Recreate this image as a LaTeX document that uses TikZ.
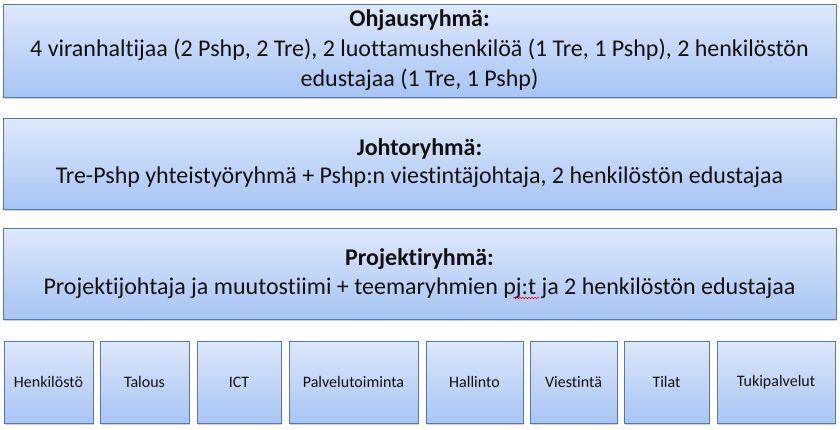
\documentclass[tikz,border=0pt]{standalone}
\usepackage{fontspec}
\setmainfont{Carlito}[Ligatures=NoCommon]
\usetikzlibrary{shadows,decorations.pathmorphing}
\definecolor{boxtop}{HTML}{DDE8FB}
\definecolor{boxbot}{HTML}{A7C4F4}
\definecolor{boxline}{HTML}{5877A6}
\definecolor{txt}{HTML}{111111}
\tikzset{
  panel/.style={draw=boxline, line width=0.8pt, top color=boxtop, bottom color=boxbot,
    drop shadow={opacity=0.35, shadow xshift=1.2pt, shadow yshift=-1.8pt},
    inner sep=0pt, align=center, text=txt},
  bigpanel/.style={panel, font=\fontsize{24}{30}\selectfont},
  smallpanel/.style={panel, font=\fontsize{16}{18}\selectfont, minimum height=82pt},
}
\begin{document}
\begin{tikzpicture}[x=1pt,y=-1pt]
\useasboundingbox (0,0) rectangle (840,429);
\fill[white] (0,0) rectangle (840,429);
\node[bigpanel, minimum width=833pt, minimum height=93pt] (ohj) at (419.5,50.5)
  {\textbf{Ohjausryhmä:}\\4 viranhaltijaa (2 Pshp, 2 Tre), 2 luottamushenkilöä (1 Tre, 1 Pshp), 2 henkilöstön\\edustajaa (1 Tre, 1 Pshp)};
\node[bigpanel, font=\fontsize{24}{28}\selectfont, minimum width=833pt, minimum height=91pt] (joh) at (419.5,163.5)
  {\textbf{Johtoryhmä:}\\Tre-Pshp yhteistyöryhmä + Pshp:n viestintäjohtaja, 2 henkilöstön edustajaa};
\node[bigpanel, font=\fontsize{24}{29}\selectfont, minimum width=833pt, minimum height=91pt] (pro) at (419.5,273.5)
  {\textbf{Projektiryhmä:}\\Projektijohtaja ja muutostiimi + teemaryhmien pj:t ja 2 henkilöstön edustajaa};
\draw[red, line width=0.5pt, decorate, decoration={snake, amplitude=0.8pt, segment length=3pt}] (513,298) -- (539,298);
\node[smallpanel, minimum width=89pt] (hen) at (48.5,382) {Henkilöstö};
\node[smallpanel, minimum width=89pt] (tal) at (144.5,382) {Talous};
\node[smallpanel, minimum width=84pt] (ict) at (239,382) {ICT};
\node[smallpanel, minimum width=129pt] (pal) at (353.5,382) {Palvelutoiminta};
\node[smallpanel, minimum width=97pt] (hal) at (474.5,382) {Hallinto};
\node[smallpanel, minimum width=87pt] (vie) at (573.5,382) {Viestintä};
\node[smallpanel, minimum width=85pt] (til) at (666.5,382) {Tilat};
\node[smallpanel, minimum width=118pt] (tuk) at (776,382) {Tukipalvelut};
\end{tikzpicture}
\end{document}
